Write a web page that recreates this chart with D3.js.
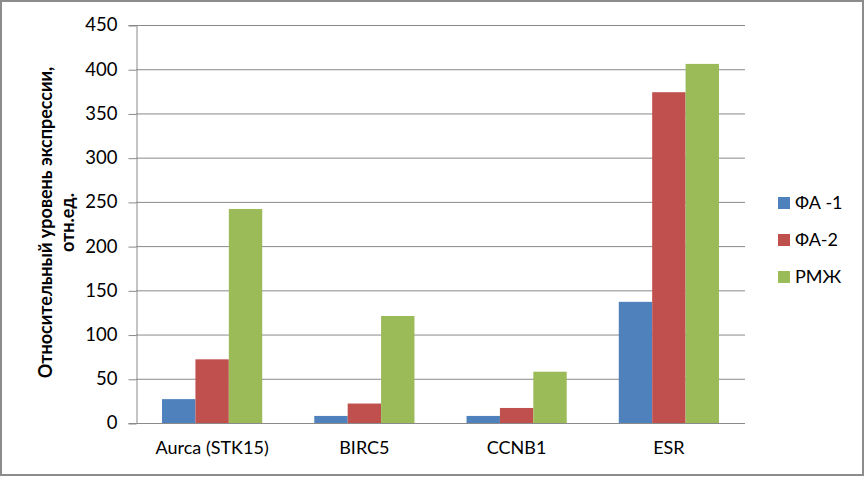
<!DOCTYPE html>
<html><head><meta charset="utf-8">
<script src="https://cdn.jsdelivr.net/npm/d3@7"></script>
<style>body{margin:0;background:#fff}svg{display:block}text{font-family:Lato,"Open Sans",sans-serif}</style>
</head><body>
<svg id="c" width="865" height="477"></svg>
<script>
const categories = ["Aurca (STK15)", "BIRC5", "CCNB1", "ESR"];
const seriesNames = ["ФА -1", "ФА-2", "РМЖ"];
const fa1 = [27, 8, 8, 137];
const fa2 = [72, 22, 17, 374];
const rmzh = [242, 121, 58, 406];
const yTicks = [0, 50, 100, 150, 200, 250, 300, 350, 400, 450];
const colors = ["#4F81BD", "#C0504D", "#9BBB59"];
const yTitle = ["Относительный уровень экспрессии,", "отн.ед."];

const seriesVals = [fa1, fa2, rmzh];
const svg = d3.select("#c");
svg.append("rect").attr("x",1).attr("y",1).attr("width",862).attr("height",474)
  .attr("fill","#fff").attr("stroke","#8c8c8c").attr("stroke-width",2);

const L=136, R=745, T=25, B=423;
const x = d3.scaleBand().domain(categories).range([L,R]).paddingInner(0.342).paddingOuter(0.171);
const xs = d3.scaleBand().domain(seriesNames).range([0,x.bandwidth()]);
const y = d3.scaleLinear().domain([0,450]).range([B,T]);

// gridlines
svg.append("g").selectAll("line").data(yTicks).join("line")
  .attr("x1",L).attr("x2",R).attr("y1",d=>y(d)+0.5).attr("y2",d=>y(d)+0.5)
  .attr("stroke","#8a8a8a").attr("stroke-width",1);

// y axis
const ya = svg.append("g").attr("transform",`translate(${L+0.5},0)`)
  .call(d3.axisLeft(y).tickValues(yTicks).tickSize(8).tickPadding(11));
ya.select(".domain").attr("stroke","#8a8a8a");
ya.selectAll(".tick line").attr("stroke","#8a8a8a").attr("transform","translate(0,0.5)");
ya.selectAll(".tick text").attr("font-size",18.5).attr("fill","#000").attr("font-family","Lato,sans-serif");

// bars
seriesVals.forEach((vals,si)=>{
  svg.append("g").selectAll("rect").data(categories).join("rect")
    .attr("x",(c)=>x(c)+xs(seriesNames[si]))
    .attr("width",xs.bandwidth())
    .attr("y",(c,i)=>y(vals[i]))
    .attr("height",(c,i)=>B-y(vals[i]))
    .attr("fill",colors[si]);
});

// x axis labels
const xa = svg.append("g").attr("transform",`translate(0,${B})`)
  .call(d3.axisBottom(x).tickSize(0).tickPadding(18));
xa.select(".domain").remove();
xa.selectAll(".tick text").attr("font-size",18).attr("fill","#000").attr("font-family","Lato,sans-serif");

// y title
const yt = svg.append("text").attr("transform","translate(0,222.5) rotate(-90)")
  .attr("text-anchor","middle").attr("font-weight","bold").attr("font-size",18).attr("fill","#000");
yt.append("tspan").attr("x",0).attr("y",52).text(yTitle[0]);
yt.append("tspan").attr("x",0).attr("y",74).text(yTitle[1]);

// legend
const lg = svg.append("g").selectAll("g").data(seriesNames).join("g")
  .attr("transform",(d,i)=>`translate(778,${203+i*37})`);
lg.append("rect").attr("x",0).attr("y",-6).attr("width",12).attr("height",12).attr("fill",(d,i)=>colors[i]);
lg.append("text").attr("x",17).attr("y",0).attr("dy","0.35em").attr("font-size",18).attr("fill","#000").text(d=>d);
</script>
</body></html>
